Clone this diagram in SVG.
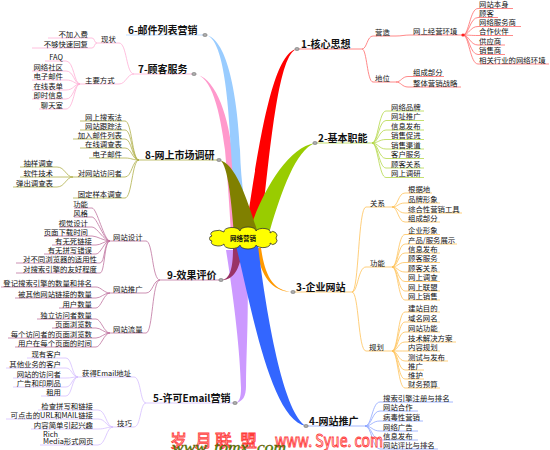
<svg xmlns="http://www.w3.org/2000/svg" width="550" height="450" viewBox="0 0 550 450">
<style>
.lf{font-family:"Noto Sans CJK SC","Noto Sans",sans-serif;font-size:7.4px;fill:#111}
.r{text-anchor:end}
.mn{font-family:"Noto Sans CJK SC","Noto Sans",sans-serif;font-size:10px;font-weight:bold;fill:#111}
.c path{fill:none;stroke-width:0.8}
.c1 path{stroke:#ff6b6b}
.c2 path{stroke:#b5d84a}
.c3 path{stroke:#ffc35a}
.c4 path{stroke:#8ea6ff}
.c5 path{stroke:#d5bfff}
.c6 path{stroke:#b3d4ff}
.c7 path{stroke:#ffb0d5}
.c8 path{stroke:#b0b04a}
.c9 path{stroke:#bf73a0}
.dot{fill:#aaa;stroke:#666;stroke-width:.5}
.wm{font-family:"Noto Sans CJK SC","Liberation Sans",sans-serif;font-size:17px;fill:#fff;stroke:#ff3b3b;stroke-width:.9}
</style>
<rect width="550" height="450" fill="#fff"/>
<g id="connectors">
<g id="branches">
<path fill="#cc99ff" d="M226,250 C234,300 240,350 241,388 C241,398 239,402 235,403 C243,402 246,396 246,386 C246,350 250,300 246,250 Z"/>
<path fill="#ff99cc" d="M194,74 C212,75 220,112 225,150 C228,185 230,215 231,236 L240,236 C238,210 235,180 232,150 C227,110 214,76 194,74 Z"/>
<path fill="#99ccff" d="M205,35 C222,36 228,90 231,150 C233,190 238,215 243,236 L252,233 C245,210 241,185 240,150 C237,90 226,37 205,35 Z"/>
<path fill="#ff0000" d="M246,229 C258,150 272,52 297,49 C279,53 271,140 262,222 Z"/>
<path fill="#99cc00" d="M248,236 C258,200 285,148 315,143 C296,150 282,190 270,230 Z"/>
<path fill="#808000" d="M219,160 C227,161 231,195 234,234 L257,230 C247,200 236,163 219,160 Z"/>
<path fill="#993366" d="M233,248 C233,265 231,280 221,280 C235,281 241,265 242,248 Z"/>
<path fill="#ff9900" d="M256,248 C260,270 268,292 293,292 C273,291 265,276 261,248 Z"/>
<path fill="#3366ff" d="M236,246 C250,300 270,420 306,426 C284,414 267,320 258,246 Z"/>
</g>
<g class="c c1">
<path d="M297,49 H362"/>
<path d="M362,49 C367,49 367,36 373,36 H396 C402,36 404,35 410,35 H463"/>
<path d="M362,49 C367,49 367,82 373,82 H396"/>
<path d="M396,82 C401,82 402,76.5 408,76.5 H444"/>
<path d="M396,82 C401,82 402,87 408,87 H461"/>
<path d="M463,35 C469,35 470,8.5 478,8.5 H513"/>
<path d="M463,35 C469,35 470,17.5 478,17.5 H498"/>
<path d="M463,35 C469,35 470,26.5 478,26.5 H521"/>
<path d="M463,35 C469,35 470,35.5 478,35.5 H513"/>
<path d="M463,35 C469,35 470,45 478,45 H505"/>
<path d="M463,35 C469,35 470,54.5 478,54.5 H505"/>
<path d="M463,35 C469,35 470,64 478,64 H549"/>
</g>
<circle cx="463" cy="35" r="1.6" fill="#ff2020"/>
<g class="c c2">
<path d="M315,143 H372"/>
<path d="M372,143 C378,143 379,111 386,111 H424"/>
<path d="M372,143 C378,143 379,120.5 386,120.5 H424"/>
<path d="M372,143 C378,143 379,130 386,130 H424"/>
<path d="M372,143 C378,143 379,139.5 386,139.5 H424"/>
<path d="M372,143 C378,143 379,149 386,149 H424"/>
<path d="M372,143 C378,143 379,158.5 386,158.5 H424"/>
<path d="M372,143 C378,143 379,168 386,168 H424"/>
<path d="M372,143 C378,143 379,177.5 386,177.5 H424"/>
</g>
<g class="c c3">
<path d="M293,292 H352"/>
<path d="M352,292 C359,292 358,207 366,207 H392"/>
<path d="M352,292 C358,292 358,267 366,267 H392"/>
<path d="M352,292 C359,292 358,351 366,351 H392"/>
<path d="M392,207 C398,207 398,193 405,193 H432"/>
<path d="M392,207 C398,207 398,203 405,203 H440"/>
<path d="M392,207 C398,207 398,213 405,213 H462"/>
<path d="M392,207 C398,207 398,222 405,222 H440"/>
<path d="M392,267 C398,267 398,234.5 405,234.5 H440"/>
<path d="M392,267 C398,267 398,244 405,244 H457"/>
<path d="M392,267 C398,267 398,253 405,253 H440"/>
<path d="M392,267 C398,267 398,262.5 405,262.5 H440"/>
<path d="M392,267 C398,267 398,272 405,272 H440"/>
<path d="M392,267 C398,267 398,281.5 405,281.5 H440"/>
<path d="M392,267 C398,267 398,291 405,291 H440"/>
<path d="M392,267 C398,267 398,300 405,300 H440"/>
<path d="M392,351 C398,351 398,312 405,312 H440"/>
<path d="M392,351 C398,351 398,322 405,322 H440"/>
<path d="M392,351 C398,351 398,332 405,332 H440"/>
<path d="M392,351 C398,351 398,342 405,342 H456"/>
<path d="M392,351 C398,351 398,351 405,351 H440"/>
<path d="M392,351 C398,351 398,361 405,361 H448"/>
<path d="M392,351 C398,351 398,370 405,370 H424"/>
<path d="M392,351 C398,351 398,379 405,379 H424"/>
<path d="M392,351 C398,351 398,388 405,388 H440"/>
</g>
<g class="c c4">
<path d="M306,426 H365"/>
<path d="M365,426 C372,426 372,402 380,402 H453"/>
<path d="M365,426 C372,426 372,411 380,411 H418"/>
<path d="M365,426 C372,426 372,421 380,421 H423"/>
<path d="M365,426 C372,426 372,431 380,431 H418"/>
<path d="M365,426 C372,426 372,440 380,440 H418"/>
<path d="M365,426 C372,426 372,449 380,449 H438"/>
</g>
<g class="c c5">
<path d="M235,403 H146"/>
<path d="M146,403 C140,403 141,377 134,377 H78"/>
<path d="M146,403 C140,403 141,427 134,427 H113"/>
<path d="M78,377 C72,377 72,358 66,358 H27"/>
<path d="M78,377 C72,377 72,368 66,368 H6"/>
<path d="M78,377 C72,377 72,378 66,378 H13"/>
<path d="M78,377 C72,377 72,387 66,387 H13"/>
<path d="M78,377 C72,377 72,396 66,396 H41"/>
<path d="M113,427 C106,427 106,410 98,410 H38"/>
<path d="M113,427 C106,427 106,419 98,419 H6"/>
<path d="M113,427 C106,427 106,429 98,429 H31"/>
<path d="M113,427 C106,427 106,445 98,445 H40"/>
</g>
<g class="c c6">
<path d="M205,35 H126"/>
</g>
<g class="c c7">
<path d="M194,74 H134"/>
<path d="M134,74 C126,74 127,43 119,43 H97"/>
<path d="M134,74 C127,74 126,84 119,84 H80"/>
<path d="M97,43 C94,43 95,38 92,38 H48"/>
<path d="M97,43 C94,43 95,48 92,48 H32"/>
<path d="M80,84 C74,84 74,61 66,61 H45"/>
<path d="M80,84 C74,84 74,71 66,71 H32"/>
<path d="M80,84 C74,84 74,80 66,80 H32"/>
<path d="M80,84 C74,84 74,90 66,90 H32"/>
<path d="M80,84 C74,84 74,99 66,99 H32"/>
<path d="M80,84 C74,84 74,109 66,109 H39"/>
</g>
<g class="c c8">
<path d="M219,160 H139"/>
<path d="M139,160 C132,160 132,121 125,121 H80"/>
<path d="M139,160 C132,160 132,130 125,130 H80"/>
<path d="M139,160 C132,160 132,139 125,139 H73"/>
<path d="M139,160 C132,160 132,148 125,148 H80"/>
<path d="M139,160 C132,160 132,158 125,158 H89"/>
<path d="M139,160 C132,160 132,177 125,177 H73"/>
<path d="M139,160 C132,160 132,198 125,198 H73"/>
<path d="M73,177 C66,177 65,167 57,167 H20"/>
<path d="M73,177 H20"/>
<path d="M73,177 C66,177 65,187 57,187 H13"/>
</g>
<g class="c c9">
<path d="M221,280 H160"/>
<path d="M160,280 C152,280 153,241 146,241 H110"/>
<path d="M160,280 C153,280 153,293 146,293 H110"/>
<path d="M160,280 C152,280 153,333 146,333 H110"/>
<path d="M110,241 C104,241 97,208 92,208 H74"/>
<path d="M110,241 C104,241 97,217 92,217 H74"/>
<path d="M110,241 C104,241 97,227 92,227 H59"/>
<path d="M110,241 C104,241 97,236 92,236 H44"/>
<path d="M110,241 C104,241 101,245 96,245 H52"/>
<path d="M110,241 C104,241 101,254 96,254 H44"/>
<path d="M110,241 C104,241 105,263 100,263 H16"/>
<path d="M110,241 C104,241 105,273 100,273 H16"/>
<path d="M110,293 C104,293 101,287 96,287 H1"/>
<path d="M110,293 C104,293 101,298 96,298 H15"/>
<path d="M110,293 C104,293 101,308 96,308 H59"/>
<path d="M110,333 C104,333 101,319 96,319 H37"/>
<path d="M110,333 C104,333 101,328 96,328 H52"/>
<path d="M110,333 C104,333 101,338 96,338 H8"/>
<path d="M110,333 C104,333 101,347 96,347 H15"/>
</g>
<g id="dots">
<ellipse class="dot" cx="297" cy="49" rx="2.2" ry="1.6"/>
<ellipse class="dot" cx="315" cy="143" rx="2.2" ry="1.6"/>
<ellipse class="dot" cx="293" cy="292" rx="2.2" ry="1.6"/>
<ellipse class="dot" cx="306" cy="426" rx="2.2" ry="1.6"/>
<ellipse class="dot" cx="235" cy="403" rx="2.2" ry="1.6"/>
<ellipse class="dot" cx="205" cy="35" rx="2.2" ry="1.6"/>
<ellipse class="dot" cx="194" cy="74" rx="2.2" ry="1.6"/>
<ellipse class="dot" cx="219" cy="160" rx="2.2" ry="1.6"/>
<ellipse class="dot" cx="221" cy="280" rx="2.2" ry="1.6"/>
</g>
</g>
<g id="center">
<path d="M212,236 a1,.5 0 0 1 12,-4 a1,.5 0 0 1 16,-1 a1,.5 0 0 1 16,0 a1,.5 0 0 1 14,2 a1,1 0 0 1 6,5 a1,1 0 0 1 -6,5 a1,.5 0 0 1 -14,2 a1,.5 0 0 1 -16,0 a1,.5 0 0 1 -16,-1 a1,.5 0 0 1 -12,-3 a1,1 0 0 1 0,-5 Z" fill="#ffff00" stroke="#333" stroke-width=".8"/>
<text x="243" y="241" text-anchor="middle" font-family="Noto Sans CJK SC, sans-serif" font-size="6.5" font-weight="bold" fill="#111">网络营销</text>
</g>
<g id="n1"><text class="mn" x="301" y="47.5">1-核心思想</text></g>
<g id="n1-a"><text class="lf" x="375" y="34.5">营造</text></g>
<g id="n1-a1"><text class="lf" x="413" y="33.5">网上经营环境</text></g>
<g id="n1-a1-leaves">
<text class="lf" x="479" y="7">网站本身</text>
<text class="lf" x="479" y="16">顾客</text>
<text class="lf" x="479" y="25">网络服务商</text>
<text class="lf" x="479" y="34">合作伙伴</text>
<text class="lf" x="479" y="43.5">供应商</text>
<text class="lf" x="479" y="53">销售商</text>
<text class="lf" x="479" y="62.5">相关行业的网络环境</text>
</g>
<g id="n1-b"><text class="lf" x="375" y="80.5">地位</text></g>
<g id="n1-b-leaves">
<text class="lf" x="413" y="75">组成部分</text>
<text class="lf" x="413" y="85.5">整体营销战略</text>
</g>
<g id="n2"><text class="mn" x="318" y="141.5">2-基本职能</text></g>
<g id="n2-leaves">
<text class="lf" x="391" y="109.5">网络品牌</text>
<text class="lf" x="391" y="119">网址推广</text>
<text class="lf" x="391" y="128.5">信息发布</text>
<text class="lf" x="391" y="138">销售促进</text>
<text class="lf" x="391" y="147.5">销售渠道</text>
<text class="lf" x="391" y="157">客户服务</text>
<text class="lf" x="391" y="166.5">顾客关系</text>
<text class="lf" x="391" y="176">网上调研</text>
</g>
<g id="n3"><text class="mn" x="296" y="290.5">3-企业网站</text></g>
<g id="n3-a"><text class="lf" x="370" y="205.5">关系</text></g>
<g id="n3-a-leaves">
<text class="lf" x="408" y="191.5">根据地</text>
<text class="lf" x="408" y="201.5">品牌形象</text>
<text class="lf" x="408" y="211.5">综合性营销工具</text>
<text class="lf" x="408" y="220.5">组成部分</text>
</g>
<g id="n3-b"><text class="lf" x="370" y="265.5">功能</text></g>
<g id="n3-b-leaves">
<text class="lf" x="408" y="233">企业形象</text>
<text class="lf" x="408" y="242.5">产品/服务展示</text>
<text class="lf" x="408" y="251.5">信息发布</text>
<text class="lf" x="408" y="261">顾客服务</text>
<text class="lf" x="408" y="270.5">顾客关系</text>
<text class="lf" x="408" y="280">网上调查</text>
<text class="lf" x="408" y="289.5">网上联盟</text>
<text class="lf" x="408" y="298.5">网上销售</text>
</g>
<g id="n3-c"><text class="lf" x="369" y="349.5">规划</text></g>
<g id="n3-c-leaves">
<text class="lf" x="408" y="310.5">建站目的</text>
<text class="lf" x="408" y="320.5">域名网名</text>
<text class="lf" x="408" y="330.5">网站功能</text>
<text class="lf" x="408" y="340.5">技术解决方案</text>
<text class="lf" x="408" y="349.5">内容规划</text>
<text class="lf" x="408" y="359.5">测试与发布</text>
<text class="lf" x="408" y="368.5">推广</text>
<text class="lf" x="408" y="377.5">维护</text>
<text class="lf" x="408" y="386.5">财务预算</text>
</g>
<g id="n4"><text class="mn" x="309" y="424.5">4-网站推广</text></g>
<g id="n4-leaves">
<text class="lf" x="383" y="400.5">搜索引擎注册与排名</text>
<text class="lf" x="383" y="409.5">网站合作</text>
<text class="lf" x="383" y="419.5">病毒性营销</text>
<text class="lf" x="383" y="429.5">网络广告</text>
<text class="lf" x="383" y="438.5">信息发布</text>
<text class="lf" x="383" y="447.5">网站评比与排名</text>
</g>
<g id="n5"><text class="mn" x="153" y="401.5">5-许可Email营销</text></g>
<g id="n5-a"><text class="lf" x="82" y="375.5">获得Email地址</text></g>
<g id="n5-a-leaves">
<text class="lf r" x="61" y="356.5">现有客户</text>
<text class="lf r" x="61" y="366.5">其他业务的客户</text>
<text class="lf r" x="61" y="376.5">网站的访问者</text>
<text class="lf r" x="61" y="385.5">广告和印刷品</text>
<text class="lf r" x="61" y="394.5">租用</text>
</g>
<g id="n5-b"><text class="lf" x="117" y="425.5">技巧</text></g>
<g id="n5-b-leaves">
<text class="lf r" x="93" y="408.5">检查拼写和链接</text>
<text class="lf r" x="93" y="417.5">可点击的URL和MAIL链接</text>
<text class="lf r" x="93" y="427.5">内容简单引起兴趣</text>
<text class="lf" x="43" y="436.5">Rich</text>
<text class="lf" x="43" y="443.5">Media形式网页</text>
</g>
<g id="n6"><text class="mn" x="128" y="33.5">6-邮件列表营销</text></g>
<g id="n7"><text class="mn" x="138" y="72.5">7-顾客服务</text></g>
<g id="n7-a"><text class="lf" x="101" y="41.5">现状</text></g>
<g id="n7-a-leaves">
<text class="lf r" x="88" y="36.5">不加入费</text>
<text class="lf r" x="88" y="46.5">不够快速回复</text>
</g>
<g id="n7-b"><text class="lf" x="85" y="82.5">主要方式</text></g>
<g id="n7-b-leaves">
<text class="lf r" x="63" y="59.5">FAQ</text>
<text class="lf r" x="63" y="69.5">网络社区</text>
<text class="lf r" x="63" y="78.5">电子邮件</text>
<text class="lf r" x="63" y="88.5">在线表单</text>
<text class="lf r" x="63" y="97.5">即时信息</text>
<text class="lf r" x="63" y="107.5">聊天室</text>
</g>
<g id="n8"><text class="mn" x="145" y="158.5">8-网上市场调研</text></g>
<g id="n8-leaves">
<text class="lf r" x="122" y="119.5">网上搜索法</text>
<text class="lf r" x="122" y="128.5">网站跟踪法</text>
<text class="lf r" x="122" y="137.5">加入邮件列表</text>
<text class="lf r" x="122" y="146.5">在线调查表</text>
<text class="lf r" x="122" y="156.5">电子邮件</text>
<text class="lf r" x="122" y="175.5">对网站访问者</text>
<text class="lf r" x="122" y="196.5">固定样本调查</text>
</g>
<g id="n8-a-leaves">
<text class="lf r" x="53" y="165.5">抽样调查</text>
<text class="lf r" x="53" y="175.5">软件技术</text>
<text class="lf r" x="53" y="185.5">弹出调查表</text>
</g>
<g id="n9"><text class="mn" x="167" y="278.5">9-效果评价</text></g>
<g id="n9-a"><text class="lf" x="113" y="239.5">网站设计</text></g>
<g id="n9-a-leaves">
<text class="lf r" x="88" y="206.5">功能</text>
<text class="lf r" x="88" y="215.5">风格</text>
<text class="lf r" x="88" y="225.5">视觉设计</text>
<text class="lf r" x="88" y="234.5">页面下载时间</text>
<text class="lf r" x="92" y="243.5">有无死链接</text>
<text class="lf r" x="92" y="252.5">有无拼写错误</text>
<text class="lf r" x="97" y="261.5">对不同浏览器的适用性</text>
<text class="lf r" x="97" y="271.5">对搜索引擎的友好程度</text>
</g>
<g id="n9-b"><text class="lf" x="113" y="291.5">网站推广</text></g>
<g id="n9-b-leaves">
<text class="lf r" x="92" y="285.5">登记搜索引擎的数量和排名</text>
<text class="lf r" x="92" y="296.5">被其他网站链接的数量</text>
<text class="lf r" x="92" y="306.5">用户数量</text>
</g>
<g id="n9-c"><text class="lf" x="113" y="331.5">网站流量</text></g>
<g id="n9-c-leaves">
<text class="lf r" x="92" y="317.5">独立访问者数量</text>
<text class="lf r" x="92" y="326.5">页面浏览数</text>
<text class="lf r" x="92" y="336.5">每个访问者的页面浏览数</text>
<text class="lf r" x="92" y="345.5">用户在每个页面的时间</text>
</g>
<g id="watermark">
<text class="wm" x="170 195 215 240" y="447">岁月联盟</text>
<text class="wm" x="275" y="447" textLength="108" lengthAdjust="spacingAndGlyphs">www. Syue. com</text>
<text x="172" y="452" font-family="Liberation Serif, serif" font-style="italic" font-size="14" fill="#2f9a00" stroke="#7a3a00" stroke-width=".3" textLength="114" lengthAdjust="spacingAndGlyphs">www. tomx. com</text>
</g>
</svg>
